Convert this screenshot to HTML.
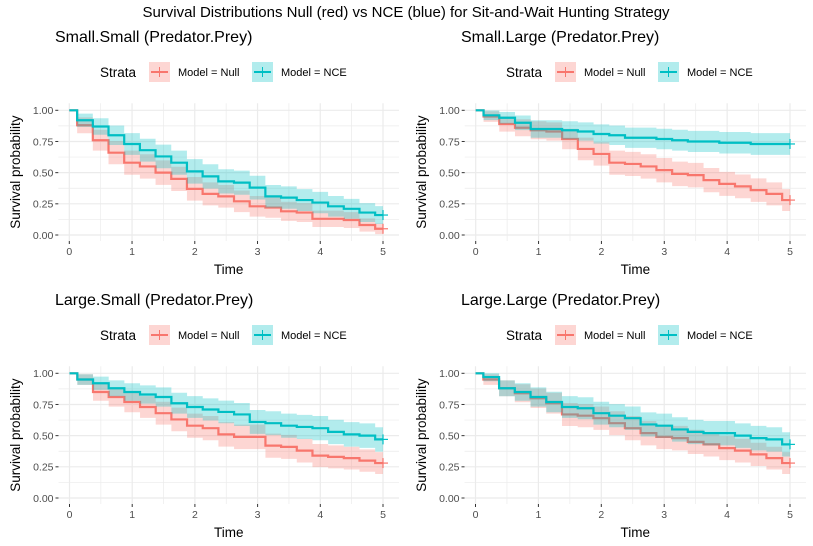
<!DOCTYPE html>
<html><head><meta charset="utf-8"><style>
body{margin:0;background:#fff;}
svg{display:block;font-family:"Liberation Sans",sans-serif;}
</style></head>
<body>
<svg id="chart" width="813" height="546" viewBox="0 0 813 546" xmlns="http://www.w3.org/2000/svg">
<text x="406" y="17" text-anchor="middle" font-size="15" fill="#000">Survival Distributions Null (red) vs NCE (blue) for Sit-and-Wait Hunting Strategy</text>
</svg>
<script>
const times = [0,0.25,0.5,0.75,1,1.25,1.5,1.75,2,2.25,2.5,2.75,3,3.25,3.5,3.75,4,4.25,4.5,4.75,5];
const panelTitles = ["Small.Small (Predator.Prey)","Small.Large (Predator.Prey)","Large.Small (Predator.Prey)","Large.Large (Predator.Prey)"];
const nullSS = [1,.88,.76,.66,.58,.55,.50,.45,.37,.33,.31,.27,.23,.22,.19,.18,.13,.13,.12,.08,.05];
const nceSS  = [1,.92,.87,.80,.73,.68,.63,.58,.51,.47,.43,.42,.38,.31,.30,.28,.26,.23,.21,.18,.16];
const nullSL = [1,.95,.89,.86,.84,.83,.77,.69,.65,.58,.57,.55,.52,.49,.48,.44,.41,.39,.36,.33,.28];
const nceSL  = [1,.96,.94,.90,.85,.85,.84,.83,.81,.80,.78,.78,.77,.76,.75,.75,.74,.74,.73,.73,.73];
const nullLS = [1,.95,.85,.81,.77,.73,.68,.63,.58,.56,.51,.49,.49,.42,.41,.38,.34,.33,.32,.30,.28];
const nceLS  = [1,.95,.92,.88,.85,.83,.81,.76,.73,.71,.69,.67,.61,.60,.58,.57,.56,.53,.51,.50,.47];
const nullLL = [1,.95,.88,.84,.80,.76,.67,.66,.64,.60,.56,.52,.49,.48,.45,.43,.40,.38,.35,.32,.28];
const nceLL  = [1,.97,.88,.85,.81,.77,.73,.72,.68,.66,.64,.59,.58,.55,.53,.52,.52,.50,.48,.47,.43];
const yTicks = ["0.00","0.25","0.50","0.75","1.00"];
const xTicks = ["0","1","2","3","4","5"];
const nRisk = 100;

const svg = document.getElementById('chart');
const NS = "http://www.w3.org/2000/svg";
function mk(tag, attrs, parent){const e=document.createElementNS(NS,tag);for(const k in attrs)e.setAttribute(k,attrs[k]);(parent||svg).appendChild(e);return e;}

const panels = [
 {ox:0, oy:0, x0:69.3, x5:383, nul:nullSS, nce:nceSS},
 {ox:406, oy:0, x0:475.7, x5:790, nul:nullSL, nce:nceSL},
 {ox:0, oy:263, x0:69.5, x5:383, nul:nullLS, nce:nceLS},
 {ox:406, oy:263, x0:475.5, x5:790, nul:nullLL, nce:nceLL}
];

panels.forEach((p,i)=>{
  const g = mk('g',{});
  
  
  const yTop = 110.3 + p.oy, yBot = 235 + p.oy;
  const xs = t => p.x0 + (p.x5-p.x0)*t/5;
  const ys = v => yBot - (yBot-yTop)*v;
  const left = p.x0 - 11, right = p.x5 + 16, top = yTop - 7, bot = yBot + 6;
  const tt = mk('text',{x:p.ox+55,y:p.oy+42,'font-size':16,fill:'#000'},g); tt.textContent=panelTitles[i];
  
  
  const lg = mk('g',{},g);
  
  
  const ly = p.oy+72;
  const st = mk('text',{x:p.ox+100,y:ly+5,'font-size':13.5,fill:'#000'},lg); st.textContent='Strata';
  [[p.ox+149,'#F8766D','Model = Null'],[p.ox+252,'#00BFC4','Model = NCE']].forEach(([lx,c,lab])=>{
    const e = mk('g',{},lg);
    
    
    mk('rect',{x:lx,y:ly-10,width:21,height:20,fill:c,'fill-opacity':0.3},e);
    mk('line',{x1:lx+2,x2:lx+19,y1:ly,y2:ly,stroke:c,'stroke-width':2},e);
    mk('line',{x1:lx+10.5,x2:lx+10.5,y1:ly-5,y2:ly+5,stroke:c,'stroke-width':1},e);
    const t = mk('text',{x:lx+29,y:ly+4,'font-size':11,fill:'#000'},e); t.textContent=lab;
  });
  for(let k=0;k<=8;k++){const v=k/8;mk('line',{x1:left,x2:right,y1:ys(v),y2:ys(v),stroke:'#ebebeb','stroke-width':k%2?0.7:1.2},g);}
  for(let k=0;k<=10;k++){const t=k/2;mk('line',{x1:xs(t),x2:xs(t),y1:top,y2:bot,stroke:'#ebebeb','stroke-width':k%2?0.7:1.2},g);}
  yTicks.forEach((lab,k)=>{const v=k/4;
    mk('line',{x1:left-3,x2:left,y1:ys(v),y2:ys(v),stroke:'#333','stroke-width':1},g);
    const t=mk('text',{x:left-5,y:ys(v)+3.8,'font-size':10.5,'text-anchor':'end',fill:'#4d4d4d'},g);t.textContent=lab;
    
    });
  xTicks.forEach((lab,k)=>{
    mk('line',{x1:xs(k),x2:xs(k),y1:bot,y2:bot+3,stroke:'#333','stroke-width':1},g);
    const t=mk('text',{x:xs(k),y:bot+14,'font-size':10.5,'text-anchor':'middle',fill:'#4d4d4d'},g);t.textContent=lab;
    
    });
  const xl=mk('text',{x:(left+right)/2,y:p.oy+274,'font-size':13.5,'text-anchor':'middle',fill:'#000'},g);xl.textContent='Time';
  
  
  const yc=(top+bot)/2;
  const yl=mk('text',{x:p.ox+20,y:yc,'font-size':13.5,'text-anchor':'middle',fill:'#000',transform:`rotate(-90 ${p.ox+20} ${yc})`},g);yl.textContent='Survival probability';
  
  
  const n = times.length;
  const segStart = k => k===0 ? times[0] : (times[k-1]+times[k])/2;
  const segEnd = k => k===n-1 ? times[k] : (times[k]+times[k+1])/2;
  [[p.nul,'#F8766D','null'],[p.nce,'#00BFC4','nce']].forEach(([vals,c,nm])=>{
    const hw = vals.map(s=>1.96*Math.sqrt(s*(1-s)/nRisk));
    let up='',lo='';
    for(let k=0;k<n;k++){
      const x1=xs(segStart(k)), x2=xs(segEnd(k));
      const u=ys(Math.min(1,vals[k]+hw[k])), l=ys(Math.max(0,vals[k]-hw[k]));
      up+=(k?'L':'M')+x1+','+u+'L'+x2+','+u;
      lo='L'+x2+','+l+'L'+x1+','+l+lo;
    }
    const band=mk('path',{d:up+lo+'Z',fill:c,'fill-opacity':0.3,stroke:'none'},g);
    
    
    let d='';
    for(let k=0;k<n;k++){
      const x1=xs(segStart(k)), x2=xs(segEnd(k)), y=ys(vals[k]);
      d+=(k?'L':'M')+x1+','+y+'L'+x2+','+y;
    }
    const line=mk('path',{d:d,fill:'none',stroke:c,'stroke-width':2.2},g);
    
    
    const ex=xs(times[n-1]), ey=ys(vals[n-1]);
    mk('line',{x1:ex-5,x2:ex+5,y1:ey,y2:ey,stroke:c,'stroke-width':1.2},g);
    mk('line',{x1:ex,x2:ex,y1:ey-5,y2:ey+5,stroke:c,'stroke-width':1.2},g);
  });
});
</script>
</body></html>
